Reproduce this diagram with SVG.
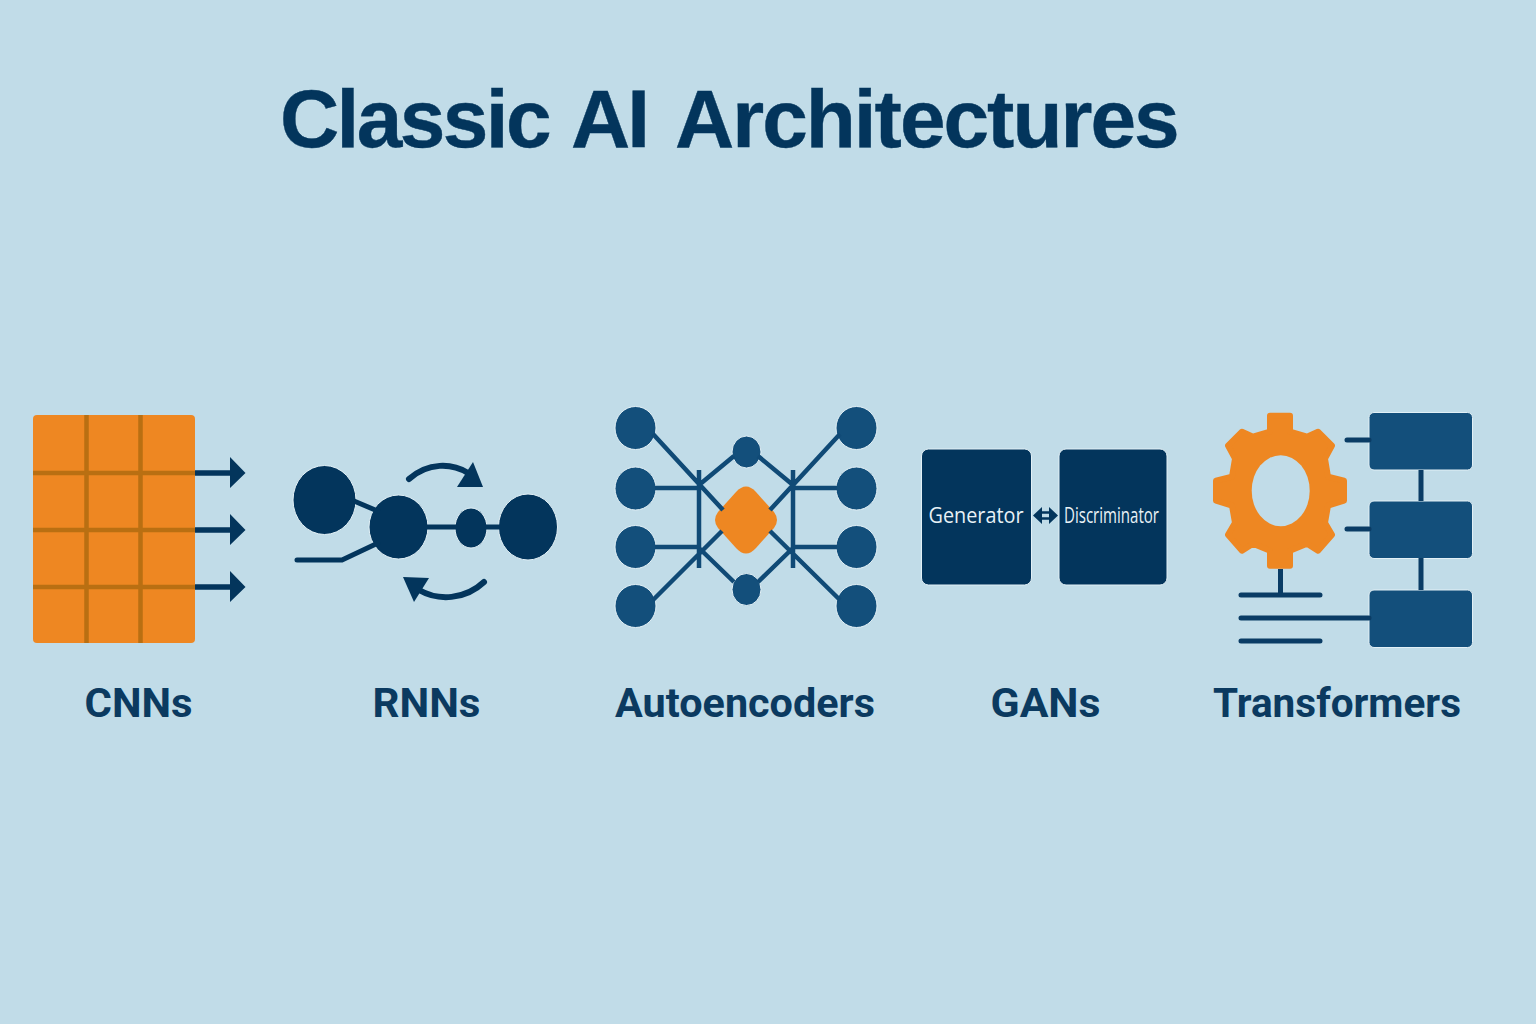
<svg xmlns="http://www.w3.org/2000/svg" width="1536" height="1024" viewBox="0 0 1536 1024">
<style>
.navy{fill:#03355c}
.blue{fill:#134f7b}
.orange{fill:#ee8722}
.halo{stroke:#e2f0f6;stroke-width:1}
.title{font:bold 82px "Liberation Sans",Arial,sans-serif;fill:#03355c;stroke:#03355c;stroke-width:.4}
.label{font:bold 41px "Roboto","Liberation Sans",sans-serif;fill:#0b3a60;text-anchor:middle}
.in{font:21px "Open Sans","Noto Sans",sans-serif;fill:#e8f1f6;text-anchor:middle}
.grid{stroke:#b96f12;stroke-width:4.5;fill:none}
.c-navy{stroke:#03355c;fill:none}
.c-blue{stroke:#104a76;stroke-width:4.500;fill:none}
.c-t{stroke:#0a3c65;stroke-width:5;fill:none}
.round{stroke-linecap:round;stroke-linejoin:round}
</style>
<rect id="background" width="1536" height="1024" fill="#c1dce8"/>
<text id="title" class="title" y="147"><tspan x="280" letter-spacing="-2.600">Classic</tspan><tspan x="571" letter-spacing="-3">AI</tspan><tspan x="675" letter-spacing="-2">Architectures</tspan></text>

<g id="node-cnn">
  <rect class="orange" x="33" y="415" width="162" height="228" rx="4"/>
  <path class="grid" d="M86.500 415V643M140.500 415V643M33 473H195M33 530H195M33 587H195"/>
  <text class="label" x="138.500" y="717" textLength="108" lengthAdjust="spacingAndGlyphs">CNNs</text>
</g>

<g id="node-rnn">
  <ellipse class="navy halo" cx="324.500" cy="500" rx="31.500" ry="34.500"/>
  <ellipse class="navy halo" cx="398.500" cy="527" rx="29.500" ry="32"/>
  <ellipse class="navy halo" cx="471" cy="528" rx="16" ry="20"/>
  <ellipse class="navy halo" cx="528" cy="527" rx="29.500" ry="33"/>
  <text class="label" x="426.500" y="717" textLength="108" lengthAdjust="spacingAndGlyphs">RNNs</text>
</g>

<g id="node-autoencoder">
  <g class="blue halo">
    <ellipse cx="635.500" cy="428" rx="20.500" ry="21.500"/>
    <ellipse cx="635.500" cy="488.500" rx="20.500" ry="21.500"/>
    <ellipse cx="635.500" cy="547" rx="20.500" ry="21.500"/>
    <ellipse cx="635.500" cy="606" rx="20.500" ry="21.500"/>
    <ellipse cx="856.500" cy="428" rx="20.500" ry="21.500"/>
    <ellipse cx="856.500" cy="488.500" rx="20.500" ry="21.500"/>
    <ellipse cx="856.500" cy="547" rx="20.500" ry="21.500"/>
    <ellipse cx="856.500" cy="606" rx="20.500" ry="21.500"/>
    <ellipse cx="746.500" cy="452" rx="14.500" ry="16"/>
    <ellipse cx="746.500" cy="589.500" rx="14.500" ry="16"/>
  </g>
  <path class="orange" d="M736 492Q746 481 756 492L774 512Q780 520 774 528L756 548Q746 559 736 548L718 528Q712 520 718 512Z"/>
  <text class="label" x="745" y="717" textLength="260" lengthAdjust="spacingAndGlyphs">Autoencoders</text>
</g>

<g id="node-gan">
  <rect class="navy halo" x="921.500" y="449" width="110" height="136" rx="7"/>
  <rect class="navy halo" x="1059" y="449" width="108" height="136" rx="7"/>
  <text class="in" x="976" y="522.500" textLength="95" lengthAdjust="spacingAndGlyphs">Generator</text>
  <text class="in" x="1111.500" y="522.500" textLength="95" lengthAdjust="spacingAndGlyphs">Discriminator</text>
  <text class="label" x="1045.500" y="717" textLength="110" lengthAdjust="spacingAndGlyphs">GANs</text>
</g>

<g id="node-transformer">
  <path class="orange" stroke="#ee8722" stroke-width="6" stroke-linejoin="round" transform="translate(1280 490.700)" d="M-10 -75H10V-59L27 -54L38 -59L52 -45L45 -32L48 -14L64 -10V10L48 15L45 32L52 44L38 60L27 53L10 60V75H-10V60L-27 53L-38 60L-52 44L-45 32L-48 15L-64 10V-10L-48 -14L-45 -32L-52 -45L-38 -59L-27 -54L-10 -59Z"/>
  <ellipse cx="1280.700" cy="490.700" rx="29" ry="35.500" fill="#c1dce8"/>
  <rect class="blue halo" x="1369" y="412.500" width="103.500" height="57.500" rx="5"/>
  <rect class="blue halo" x="1369" y="501" width="103.500" height="57.500" rx="5"/>
  <rect class="blue halo" x="1369" y="590" width="103.500" height="57.500" rx="5"/>
  <text class="label" x="1337" y="717" textLength="248" lengthAdjust="spacingAndGlyphs">Transformers</text>
</g>

<g id="connectors">
  <!-- CNN outputs -->
  <path class="c-navy" stroke-width="5.500" d="M195 473H232M195 530H232M195 587H232"/>
  <path class="navy" d="M230 457L245.500 473L230 488ZM230 514L245.500 530L230 545ZM230 571L245.500 587L230 602Z"/>
  <!-- RNN -->
  <path class="c-navy" stroke-width="5" d="M354 501L380 512M425 527H458M484 527H500"/>
  <path class="c-navy round" stroke-width="5" d="M297 560H342L378 543"/>
  <path class="c-navy round" stroke-width="6" d="M409 479C428 462 452 463 468 473"/>
  <path class="navy" d="M457 487L473 462L483 487Z"/>
  <path class="c-navy round" stroke-width="6" d="M484 582C465 600 438 601 419 590"/>
  <path class="navy" d="M403 577L429 578L414 602Z"/>
  <!-- Autoencoder -->
  <path class="c-blue" d="M653 434L723 510M653 600L722 531M699 485L734 456M699 548L734 582M655 488H699M655 547H699M699 470V568
  M840 434L770 510M840 600L770 531M793 485L758 456M793 548L758 582M837 488H793M837 547H793M793 470V568"/>
  <!-- GAN -->
  <path class="c-navy" stroke-width="2.500" d="M1040 512.500H1052M1040 518.500H1052"/>
  <path class="navy" d="M1033 515.500L1042 507V524ZM1058 515.500L1049 507V524Z"/>
  <!-- Transformer -->
  <path class="c-t round" d="M1347 440H1369M1347 529H1369M1241 595H1320M1241 618H1369M1241 641H1320"/>
  <path class="c-t" d="M1421 470V501M1421 558V590M1280.500 569V595"/>
</g>
</svg>
